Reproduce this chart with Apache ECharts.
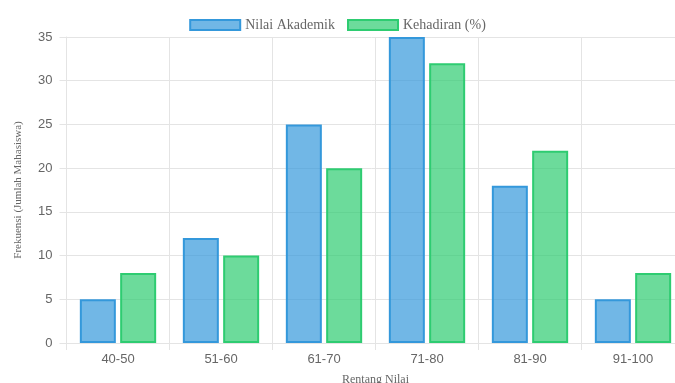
<!DOCTYPE html>
<html>
<head>
<meta charset="utf-8">
<script src="https://cdn.jsdelivr.net/npm/echarts@6/dist/echarts.min.js"></script>
<style>
  html, body { margin: 0; padding: 0; background: #fff; }
  #chart { width: 675px; height: 383px; }
</style>
</head>
<body>
<div id="chart"></div>
<script>
// Grade ranges on the x axis
const categories = ['40-50', '51-60', '61-70', '71-80', '81-90', '91-100'];
// Number of students per range
const nilaiAkademik = [5, 12, 25, 35, 18, 5];
const kehadiran = [8, 10, 20, 32, 22, 8];
// Value axis ticks
const yTicks = [0, 5, 10, 15, 20, 25, 30, 35];

const gridColor = '#e4e4e4';
const serif = '"Liberation Serif", "DejaVu Serif", serif';
const sans = '"Liberation Sans", Arial, sans-serif';

const chart = echarts.init(document.getElementById('chart'), null, { renderer: 'canvas' });

chart.setOption({
  animation: false,
  legend: {
    top: 13,
    left: 'center',
    itemWidth: 50,
    itemHeight: 10,
    itemGap: 12,
    icon: 'rect',
    textStyle: { fontFamily: serif, fontSize: 14, color: '#666' },
    data: ['Nilai Akademik', 'Kehadiran (%)']
  },
  grid: {
    left: 66.5, top: 37, width: 618, bottom: 40,
    containLabel: false,
    outerBoundsMode: 'none'
  },
  xAxis: {
    type: 'category',
    data: categories,
    name: 'Rentang Nilai',
    nameLocation: 'middle',
    nameGap: 31,
    nameTextStyle: { fontFamily: serif, fontSize: 12, color: '#666' },
    axisLine: { show: true, lineStyle: { color: gridColor, width: 1 } },
    axisTick: { show: true, length: 7, alignWithLabel: false, lineStyle: { color: gridColor } },
    axisLabel: { fontFamily: sans, fontSize: 13, color: '#666', margin: 10 },
    splitLine: { show: true, lineStyle: { color: gridColor } }
  },
  yAxis: {
    type: 'value',
    min: yTicks[0],
    max: yTicks[yTicks.length - 1],
    interval: yTicks[1] - yTicks[0],
    name: 'Frekuensi (Jumlah Mahasiswa)',
    nameLocation: 'middle',
    nameGap: 43,
    nameTextStyle: { fontFamily: serif, fontSize: 11, color: '#666' },
    axisLine: { show: true, lineStyle: { color: gridColor, width: 1 } },
    axisTick: { show: true, length: 7, lineStyle: { color: gridColor } },
    axisLabel: { fontFamily: sans, fontSize: 13, color: '#666', margin: 14 },
    splitLine: { show: true, lineStyle: { color: gridColor } }
  },
  series: [
    {
      name: 'Nilai Akademik',
      type: 'bar',
      data: nilaiAkademik,
      barWidth: 36,
      barGap: '12%',
      itemStyle: { color: 'rgba(52,152,219,0.7)', borderColor: '#3498db', borderWidth: 2 }
    },
    {
      name: 'Kehadiran (%)',
      type: 'bar',
      data: kehadiran,
      barWidth: 36,
      barGap: '12%',
      itemStyle: { color: 'rgba(46,204,113,0.7)', borderColor: '#2ecc71', borderWidth: 2 }
    }
  ]
});
</script>
</body>
</html>
